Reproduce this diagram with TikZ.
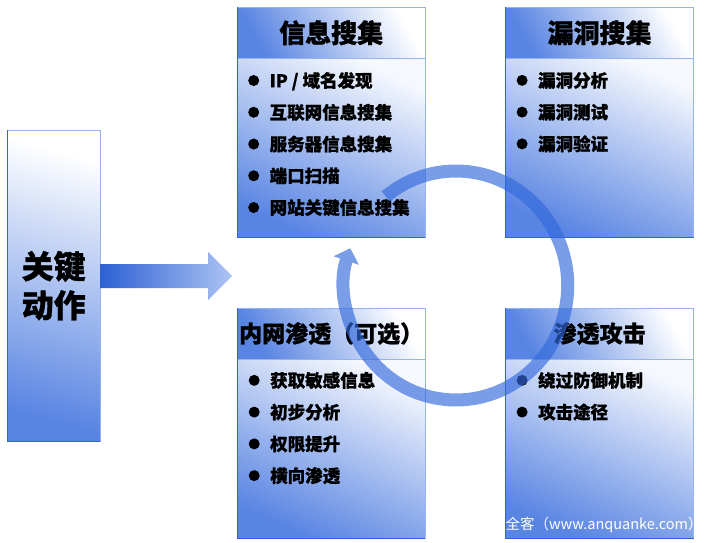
\documentclass[tikz,border=0pt]{standalone}
\usepackage{fontspec}
\setmainfont{Noto Sans CJK SC}[BoldFeatures={FakeBold=1}]
\usetikzlibrary{arrows.meta,positioning}

\definecolor{boxblue}{RGB}{88,132,226}
\definecolor{boxline}{RGB}{150,178,240}
\definecolor{edgeblue}{RGB}{52,98,214}
\definecolor{ringblue}{RGB}{50,105,220}
\definecolor{arrowdark}{RGB}{45,96,212}
\definecolor{arrowlight}{RGB}{172,196,243}

\newcommand\itm[1]{\raisebox{1.2pt}{\tikz\fill (0,0) circle[radius=5.5pt];}\hspace{10.5pt}#1}

\begin{document}
\begin{tikzpicture}
[x=1pt, y=-1pt,
% STYLES
every node/.style={inner sep=0pt},
% The side style is used for the tall box on the left
side/.style={rectangle, draw=boxline, top color=white, bottom color=boxblue, shading angle=-15, minimum width=93pt, minimum height=311pt, align=center, font=\bfseries\fontsize{32pt}{39pt}\selectfont},
% The head style is used for the title bar of each stage
head/.style={rectangle, draw=boxline, top color=white, bottom color=boxblue, shading angle=-60, minimum width=188pt, minimum height=51pt, font=\bfseries\fontsize{26pt}{30pt}\selectfont},
% The body style is used for the box under each title bar
body/.style={rectangle, draw=boxline, top color=white!94!boxblue, bottom color=boxblue, shading angle=-25, minimum width=188pt, minimum height=179pt},
% The items style is used for the bullet lists
items/.style={align=left, font=\bfseries\fontsize{17.5pt}{31.75pt}\selectfont},
% The darkedge style is used for the left and lower sides of the boxes
darkedge/.style={draw=edgeblue, line width=0.8pt},
% The ring style is used for the cycle arrow
ring/.style={draw=ringblue, line width=13pt, -{Triangle[width=26pt,length=13pt]}}]

\useasboundingbox (0,0) rectangle (705,543);

% Draw the key box and its arrow
\node [side, anchor=north west] (key) at (7,130) {关键\\动作};
\shade [left color=arrowdark, right color=arrowlight] (100,264) -- (208,264) -- (208,252) -- (232,276) -- (208,300) -- (208,288) -- (100,288) -- cycle;

% Draw stages
\node [head, anchor=north west] (info) at (237,7) {信息搜集};
\node [body, below=0pt of info] (info-body) {};
\node [head, right=80pt of info] (vuln) {漏洞搜集};
\node [body, below=0pt of vuln] (vuln-body) {};
\node [head, below=70pt of info-body, font=\bfseries\fontsize{23pt}{27pt}\selectfont] (intra) {内网渗透（可选）};
\node [body, below=0pt of intra] (intra-body) {};
\node [head, right=80pt of intra, font=\bfseries\fontsize{23pt}{27pt}\selectfont] (attack) {渗透攻击};
\node [body, below=0pt of attack] (attack-body) {};

% left and lower sides
\draw [darkedge] (key.north west) |- (key.south east);
\foreach \s in {info,vuln,intra,attack}
  \draw [darkedge] (\s.north west) |- (\s-body.south east);

%%%%%%%%%%%%%%%
% Lists

% info
\node [items, below right=13.5pt and 11pt of info.south west] (info-list) {\itm{IP / 域名发现}\\
\itm{互联网信息搜集}\\
\itm{服务器信息搜集}\\
\itm{端口扫描}\\
\itm{网站关键信息搜集}};

% vuln
\node [items, below right=13.5pt and 11pt of vuln.south west] (vuln-list) {\itm{漏洞分析}\\
\itm{漏洞测试}\\
\itm{漏洞验证}};

% intra
\node [items, below right=12.5pt and 11.5pt of intra.south west] (intra-list) {\itm{获取敏感信息}\\
\itm{初步分析}\\
\itm{权限提升}\\
\itm{横向渗透}};

% attack
\node [items, below right=12.5pt and 11pt of attack.south west] (attack-list) {\itm{绕过防御机制}\\
\itm{攻击途径}};

\node [anchor=west, text=white, font=\fontsize{14.5pt}{16pt}\selectfont] (mark) at ([yshift=14pt]attack-body.south west) {全客（www.anquanke.com）};

%%%%%%%%%%%%%%%

% Draw the cycle
\coordinate (ring) at (456,285.5);
\begin{scope}[transparency group, opacity=.65]
\draw [ring] (ring) ++(231:111.75 and 114.5) arc [start angle=231, end angle=559, x radius=111.75, y radius=114.5];
\end{scope}

\end{tikzpicture}
\end{document}
